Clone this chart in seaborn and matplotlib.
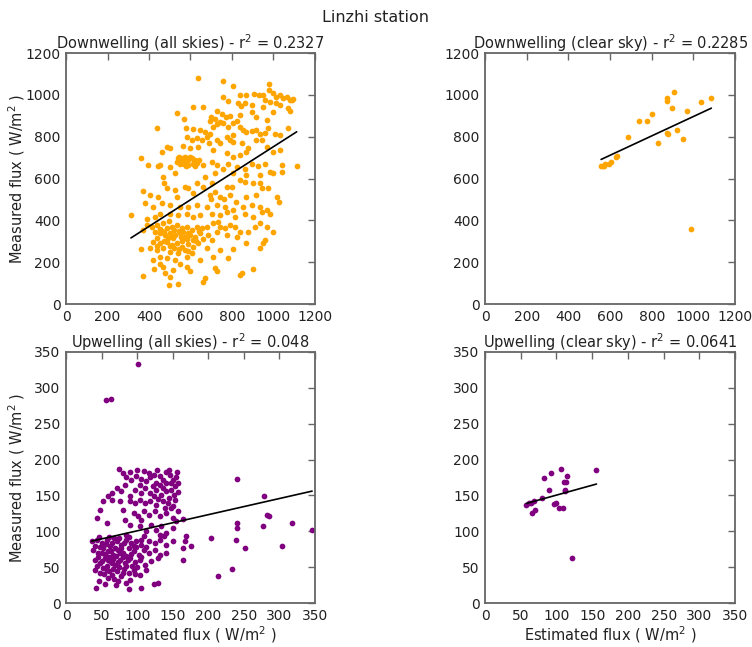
import numpy as np
import pandas as pd
import matplotlib
matplotlib.use("Agg")
import matplotlib.pyplot as plt
import seaborn as sns

# ---------------- data ----------------
# Downwelling, all skies: (estimated, measured)
down_all = [
    (638,1082),(758,1068),(803,1044),(978,1053),(838,1000),(870,1000),(906,1002),(932,998),(948,1000),
    (758,991),(782,972),(979,1023),(999,1007),(1031,999),(1063,991),(1088,975),(1096,978),(1080,975),
    (830,960),(845,945),(895,951),(983,967),(1012,963),(1031,951),(1071,935),(1080,924),(951,943),(863,959),
    (614,943),(662,943),(533,915),(726,924),(750,908),(771,892),(790,899),(822,876),(838,903),(895,920),
    (918,896),(967,880),(999,920),(1045,985),(1010,990),(960,975),
    (569,886),(694,875),(718,886),(742,872),(758,864),(782,848),(806,864),(851,832),(870,821),(895,829),
    (918,832),(935,811),(959,816),(975,840),(1007,811),(1031,808),(1071,840),(578,840),(614,835),(646,832),
    (670,824),(694,813),(806,808),(838,848),(710,845),(440,840),(730,860),(700,895),
    (501,744),(461,728),(485,749),(582,800),(606,784),(630,792),(654,784),(678,800),(691,768),(726,784),
    (742,768),(774,800),(790,784),(806,776),(847,768),(879,744),(918,784),(943,784),(967,752),(999,728),
    (1031,736),(565,755),(598,744),(638,752),(710,736),(774,720),(806,704),(838,712),(870,728),(361,700),
    (541,696),(557,688),(573,701),(590,691),(606,696),(622,688),(549,669),(567,672),(590,664),(610,672),
    (630,675),(501,656),(453,664),(442,659),(662,664),(702,680),(726,664),(758,648),(782,672),(822,656),
    (863,648),(895,672),(927,659),(959,672),(983,632),(1040,664),(1040,632),(670,609),(718,625),(806,625),
    (870,617),(935,617),(999,625),(469,609),(525,625),(397,665),(1112,660),(555,681),(580,680),(615,680),
    (545,705),(562,700),(598,702),(640,690),(578,660),(620,660),(535,680),
    (474,577),(485,553),(525,545),(573,561),(590,553),(630,577),(662,561),(702,577),(718,537),(774,561),
    (798,561),(838,593),(863,585),(903,577),(935,577),(943,553),(975,553),(1015,513),(445,513),(533,513),
    (614,529),(694,521),(742,513),(790,521),(870,513),(918,521),(369,542),(405,521),(1027,489),
    (381,481),(421,465),(461,481),(501,473),(549,465),(590,465),(630,473),(678,465),(726,473),(766,465),
    (806,449),(855,465),(895,473),(935,465),(967,449),(453,433),(501,433),(541,425),(582,433),(614,417),
    (646,425),(702,433),(742,425),(774,441),(814,417),(863,433),(903,417),(943,441),(983,433),(313,425),
    (389,409),(429,417),(760,500),(820,490),(700,500),
    (389,378),(373,354),(413,370),(437,378),(469,386),(485,362),(509,370),(533,378),(557,362),(582,370),
    (606,354),(630,370),(654,362),(678,370),(710,386),(734,394),(742,370),(766,362),(790,378),(814,370),
    (838,346),(879,346),(911,370),(935,386),(967,370),(453,338),(477,330),(501,341),(525,330),(549,338),
    (573,322),(598,330),(622,322),(646,338),(686,330),(726,346),(774,330),(437,314),(517,314),(614,306),
    (662,309),(702,306),(822,322),(999,346),(461,350),(545,350),(493,318),(565,345),
    (455,360),(520,355),(590,340),(640,350),(470,345),(510,325),(555,320),(585,310),(430,345),(495,395),
    (421,298),(453,290),(485,298),(509,282),(533,290),(557,274),(590,287),(614,274),(638,290),(405,266),
    (437,258),(469,266),(501,250),(541,242),(573,258),(606,242),(361,261),(678,266),(742,258),(806,261),
    (870,290),(948,290),(959,306),(935,266),(453,227),(485,218),(525,210),(582,227),(646,210),(710,227),
    (782,218),(421,210),(520,270),(560,300),(470,300),(500,280),(545,265),(440,280),(590,255),(625,300),
    (424,169),(469,178),(477,147),(517,163),(582,178),(453,194),(718,171),(726,158),(838,139),(847,151),
    (900,169),(373,135),(658,104),(670,127),(501,131),(496,91),(541,96),(550,190),(600,160),
]

# Downwelling, clear sky
down_clear_est = [557,568,576,573,597,605,629,632,685,741,776,803,832,872,880,872,872,896,909,923,952,971,987,1037,1086]
down_clear_meas = [658,661,669,658,671,677,703,706,797,876,876,908,768,818,815,985,969,938,1012,833,789,924,361,967,983]

# Upwelling, all skies
up_all = [
    (101,333),(56,283),(63,284),(156,182),(240,173),(279,149),(283,123),(286,122),(240,111),(240,104),
    (239,88),(204,90),(252,77),(277,108),(318,112),(304,80),(346,102),(233,48),(213,38),(176,80),(167,87),
    (164,77),(169,94),(165,60),(165,117),(155,114),(138,93),(123,27),(129,28),(105,21),(89,19),(42,21),
    (75,187),(100,186),
    (80,181),(90,182),(109,184),(116,181),(124,179),(132,177),(146,178),(151,172),(140,182),(128,185),
    (85,175),(92,172),(99,177),(106,173),(113,170),(118,175),(127,168),(137,172),(145,186),(155,176),
    (141,167),(148,168),(83,165),(104,165),(132,165),(153,163),(122,163),(158,168),(136,160),
    (71,161),(78,156),(97,158),(106,154),(111,161),(118,154),(127,158),(64,154),(59,149),
    (134,151),(141,156),(148,158),(90,149),(123,149),(152,150),(145,147),(157,155),(130,145),
    (64,144),(76,142),(90,142),(97,140),(104,144),(111,139),(52,142),(48,130),(43,119),
    (118,142),(127,137),(137,142),(144,140),(153,144),(150,135),(139,133),
    (80,130),(95,126),(101,121),(109,128),
    (116,123),(125,128),(132,121),(141,126),(151,119),(83,116),(106,116),(158,128),(148,132),
    (57,112),(90,109),(104,107),(113,100),
    (120,109),(127,102),(134,107),(141,98),(151,105),(85,95),(109,94),(132,95),
    (36,86),(43,88),(50,83),(57,88),(64,84),(71,86),(78,81),(85,88),(92,84),(99,86),(106,81),(116,86),
    (125,83),(132,88),(141,81),(151,86),(47,92),(60,92),(75,91),(89,92),
    (38,74),(45,70),(52,77),(59,72),(66,67),(73,74),(80,70),(88,77),(95,72),(102,67),(109,74),(116,70),
    (125,74),(132,67),(141,70),(69,77),(48,78),(62,79),(77,76),(55,68),(70,66),(84,66),(99,78),
    (41,80),(56,82),(68,90),(82,84),(95,80),(105,88),(112,78),(63,72),(76,70),(91,68),(106,64),
    (41,60),(48,56),(55,63),(62,58),(69,53),(76,60),(83,56),(90,63),(97,57),(104,60),(111,53),(120,58),
    (130,63),(57,52),(85,52),(45,64),(66,61),(80,64),(93,52),(73,57),(59,60),(50,58),(64,56),(87,60),
    (41,46),(48,42),(57,46),(64,39),(71,44),(78,37),(88,42),(95,46),(104,39),(73,30),(59,35),(113,46),(90,32),
    (52,49),(66,48),(82,48),(100,50),(67,34),(84,28),(44,52),(53,40),(61,44),(75,50),(97,40),(80,42),
    (46,31),(55,27),(70,25),(60,64),(50,70),
]

# Upwelling, clear sky
up_clear_est = [58,61,64,68,66,70,80,83,90,93,96,99,104,109,107,110,114,115,112,112,122,156]
up_clear_meas = [137,139,140,142,126,129,147,174,158,181,138,139,132,133,187,169,169,177,158,156,63,185]

titles = [
    "Downwelling (all skies) - r$^2$ = 0.2327",
    "Downwelling (clear sky) - r$^2$ = 0.2285",
    "Upwelling (all skies) - r$^2$ = 0.048",
    "Upwelling (clear sky) - r$^2$ = 0.0641",
]
suptitle = "Linzhi station"
xlabel = "Estimated flux ( W/m$^2$ )"
ylabel = "Measured flux ( W/m$^2$ )"

# ---------------- plotting ----------------
sns.set_style("white")
plt.rcParams["font.family"] = ["DejaVu Sans"]

fig = plt.figure(figsize=(7.52, 6.47), dpi=100)
boxes = [
    (0.0878, 0.530, 0.331, 0.388),
    (0.645, 0.530, 0.3325, 0.388),
    (0.0878, 0.068, 0.331, 0.388),
    (0.645, 0.068, 0.3325, 0.388),
]
axes = [fig.add_axes(b) for b in boxes]

da = pd.DataFrame(down_all, columns=["est", "meas"])
dc = pd.DataFrame({"est": down_clear_est, "meas": down_clear_meas})
ua = pd.DataFrame(up_all, columns=["est", "meas"])
uc = pd.DataFrame({"est": up_clear_est, "meas": up_clear_meas})

sets = [(da, "orange"), (dc, "orange"), (ua, "purple"), (uc, "purple")]
for i, (ax, (df, col)) in enumerate(zip(axes, sets)):
    sns.regplot(data=df, x="est", y="meas", ax=ax, ci=None, truncate=True,
                scatter_kws=dict(s=17, color=col, linewidths=0, alpha=1),
                line_kws=dict(color="black", lw=1.2))
    if i < 2:
        ax.set_xlim(0, 1200); ax.set_ylim(0, 1200)
        ax.set_xticks(range(0, 1201, 200)); ax.set_yticks(range(0, 1201, 200))
    else:
        ax.set_xlim(0, 350); ax.set_ylim(0, 350)
        ax.set_xticks(range(0, 351, 50)); ax.set_yticks(range(0, 351, 50))
    ax.set_title(titles[i], fontsize=10.5, color="#222222", pad=3)
    ax.set_xlabel(xlabel if i >= 2 else "", fontsize=10.5, color="#222222", labelpad=1)
    ax.set_ylabel(ylabel if i % 2 == 0 else "", fontsize=10.5, color="#222222")
    ax.yaxis.set_label_coords(-0.157, 0.5)
    ax.tick_params(direction="in", top=True, right=True, length=5, width=1,
                   color="#666666", labelsize=10, labelcolor="#222222", pad=4)
    for s in ax.spines.values():
        s.set_visible(True)
        s.set_color("#666666")
        s.set_linewidth(1.3)

fig.suptitle(suptitle, fontsize=11.5, y=0.985, color="#222222")
fig.savefig("out.png", dpi=100)
